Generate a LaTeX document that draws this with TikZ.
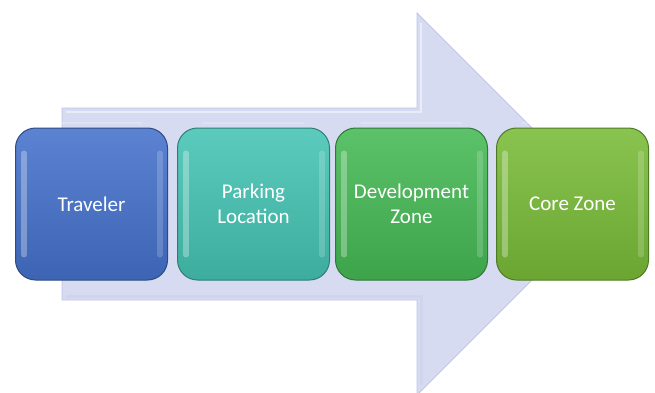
\documentclass[tikz,border=0pt]{standalone}
\usepackage{fontspec}
\setmainfont{Carlito}
\begin{document}
\begin{tikzpicture}[x=1pt,y=-1pt,
  stepbox/.style={draw=#1!65!black, line width=1pt, rounded corners=20pt,
    minimum width=152pt, minimum height=152pt, inner sep=0pt,
    top color=#1!88!white, bottom color=#1!88!black,
    text=white, align=center, font=\fontsize{21}{25}\selectfont},
  gloss/.style={white, opacity=0.3, line width=6pt, line cap=round}]
\definecolor{cTrav}{HTML}{4572CC}
\definecolor{cPark}{HTML}{45C4B4}
\definecolor{cDev}{HTML}{45BA55}
\definecolor{cCore}{HTML}{7ABC38}
\definecolor{arrowfill}{HTML}{D6DBF1}
\definecolor{arrowedge}{HTML}{BFC6E3}
\useasboundingbox (0,0) rectangle (655,392);
% big process arrow in the background
\fill[arrowfill, draw=arrowedge, line width=0.8pt]
  (62,108) -- (417,108) -- (417,13) -- (608,204) -- (417,395) -- (417,300)
  -- (62,300) -- cycle;
% soft bevel inside the arrow
\draw[white, opacity=0.5, line width=2pt]
  (66,112) -- (421,112) -- (421,23);
\draw[arrowedge!80!white, opacity=0.6, line width=3pt]
  (421,385) -- (421,296) -- (66,296);
% steps
\node[stepbox=cTrav] (trav) at (91.5,204) {Traveler};
\node[stepbox=cPark] (park) at (253.5,204) {Parking\\Location};
\node[stepbox=cDev]  (dev)  at (411.5,204) {Development\\Zone};
\node[stepbox=cCore] (core) at (572.5,204) {Core Zone};
% glossy edge highlights
\foreach \n in {trav,park,dev,core}{
  \draw[gloss] ([xshift=9pt,yshift=-26pt]\n.north west) -- ([xshift=9pt,yshift=26pt]\n.south west);
  \draw[gloss, opacity=0.18] ([xshift=-8pt,yshift=-26pt]\n.north east) -- ([xshift=-8pt,yshift=26pt]\n.south east);
  \draw[white, opacity=0.22, line width=2pt] ([xshift=26pt,yshift=5pt]\n.north west) -- ([xshift=-26pt,yshift=5pt]\n.north east);
}
\end{tikzpicture}
\end{document}
